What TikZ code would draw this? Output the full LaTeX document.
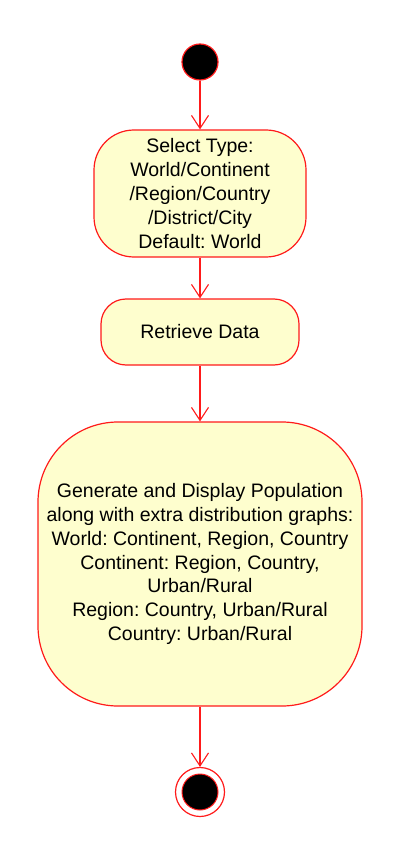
\documentclass[tikz,border=0pt]{standalone}
\usepackage{fontspec}
\setmainfont{Liberation Sans}
\usetikzlibrary{arrows.meta}
\frenchspacing
\definecolor{umlred}{HTML}{FF1A1A}
\definecolor{umlfill}{HTML}{FEFECE}
\tikzset{
  action/.style={draw=umlred, fill=umlfill, line width=1.2pt, align=center,
    inner sep=0pt, font=\fontsize{19.5}{23.8}\selectfont},
  flow/.style={draw=umlred, line width=1.1pt, -{Straight Barb[length=13pt,width=17pt]}},
}
\begin{document}
\begin{tikzpicture}[x=1pt,y=-1pt]
  \useasboundingbox (0,0) rectangle (403,842);
  % start and end
  \node[circle, draw=umlred, fill=black, line width=1.2pt, minimum size=36pt, inner sep=0pt] (start) at (200,62) {};
  \node[circle, draw=umlred, line width=1.2pt, minimum size=49pt, inner sep=0pt] (stop) at (200,792) {};
  \node[circle, draw=umlred, fill=black, line width=1pt, minimum size=36pt, inner sep=0pt] (stopdot) at (200,792) {};
  % actions
  \node[action, minimum width=212pt, minimum height=127pt, rounded corners=40pt] (select) at (200,193.5)
   {Select Type:\\World/Continent\\/Region/Country\\/District/City\\Default: World};
  \node[action, minimum width=198pt, minimum height=66pt, rounded corners=25pt] (retrieve) at (200,332)
   {Retrieve Data};
  \node[action, minimum width=324pt, minimum height=284pt, rounded corners=80pt] (generate) at (200,564)
   {Generate and Display Population\\along with extra distribution graphs:\\World: Continent, Region, Country\\Continent: Region, Country,\\Urban/Rural\\Region: Country, Urban/Rural\\Country: Urban/Rural};
  % flows
  \draw[flow] (start) -- (select);
  \draw[flow] (select) -- (retrieve);
  \draw[flow] (retrieve) -- (generate);
  \draw[flow] (generate) -- (stop);
\end{tikzpicture}
\end{document}
